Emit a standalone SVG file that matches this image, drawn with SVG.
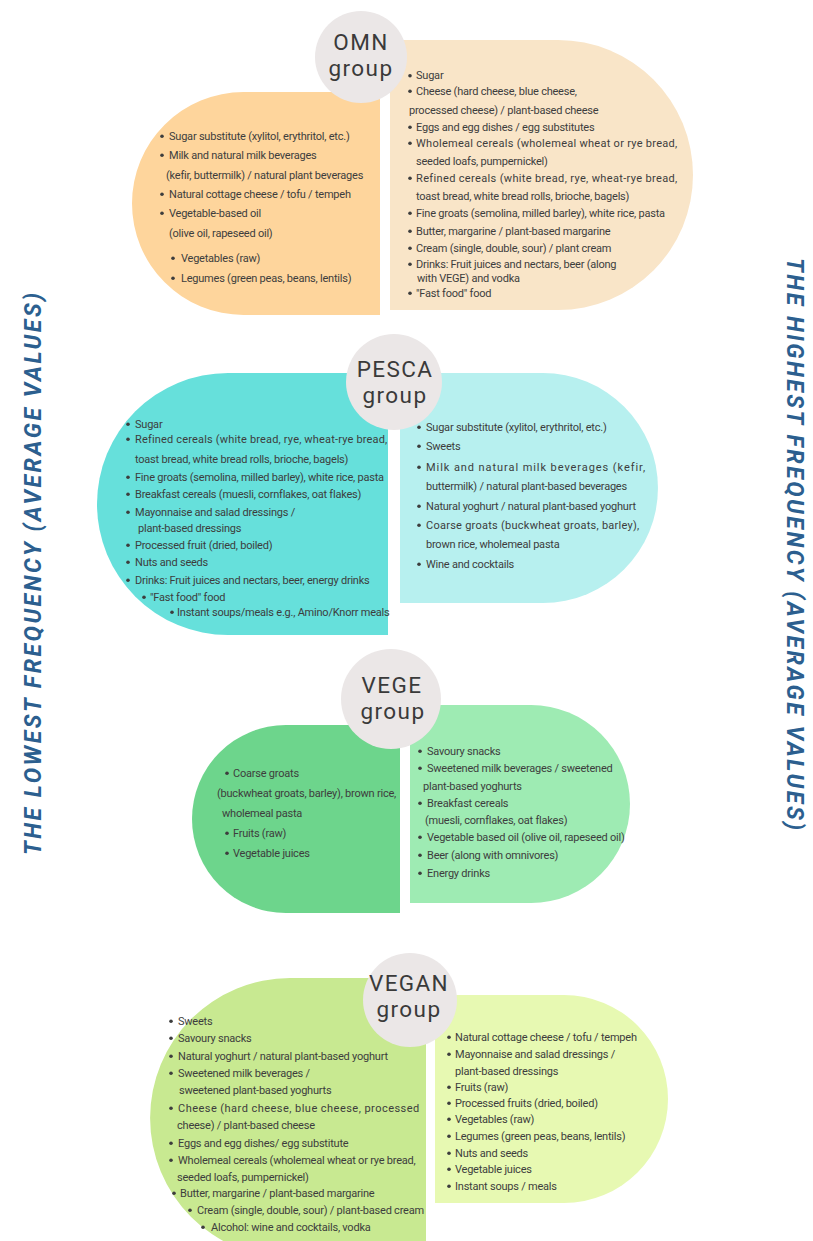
<svg xmlns="http://www.w3.org/2000/svg" width="813" height="1241" viewBox="0 0 813 1241">
  <style>
    .t { font-family: Roboto, "Liberation Sans", sans-serif; font-size: 11px; letter-spacing: -0.22px; fill: #3d3d3d; }
    .title { font-family: Roboto, "Liberation Sans", sans-serif; font-size: 22.5px; fill: #3a3a3a; text-anchor: middle; letter-spacing: 1.4px; }
    .badge { fill: #ebe7e7; }
    .side { font-family: Roboto, "Liberation Sans", sans-serif; font-size: 23px; font-weight: 700; font-style: italic; fill: #2c5f8f; text-anchor: middle; }
    .dot { fill: #3d3d3d; }
  </style>
  <defs>
    <circle id="b" r="1.8" class="dot"/>
  </defs>
  <rect width="813" height="1241" fill="#ffffff"/>

  <!-- axis captions -->
  <text class="side" transform="translate(41,574) rotate(-90)" textLength="562" lengthAdjust="spacing">THE LOWEST FREQUENCY (AVERAGE VALUES)</text>
  <text class="side" transform="translate(787,544) rotate(90)" textLength="572" lengthAdjust="spacing">THE HIGHEST FREQUENCY (AVERAGE VALUES)</text>

  <!-- OMN group -->
  <g id="omn">
    <path d="M380,92 V315 H243.5 A111.5,111.5 0 0 1 243.5,92 Z" fill="#fed59c"/>
    <path d="M390,40 H558 A135,135 0 0 1 558,310 H390 Z" fill="#f9e5c8"/>
    <circle class="badge" cx="361" cy="57" r="46"/>
    <text class="title" x="361" y="50">OMN<tspan x="361" y="76">group</tspan></text>
    <g id="omn-low-dots">
      <use href="#b" x="162" y="136.2"/><use href="#b" x="162" y="155.2"/>
      <use href="#b" x="162" y="194.2"/><use href="#b" x="162" y="213.2"/>
      <use href="#b" x="173" y="258.2"/><use href="#b" x="173" y="278.2"/>
    </g>
    <g id="omn-high-dots">
      <use href="#b" x="410" y="75.7"/><use href="#b" x="410" y="91.2"/>
      <use href="#b" x="410" y="127.2"/><use href="#b" x="410" y="143.2"/>
      <use href="#b" x="410" y="178.2"/><use href="#b" x="410" y="213.2"/>
      <use href="#b" x="410" y="231.2"/><use href="#b" x="410" y="248.2"/>
      <use href="#b" x="410" y="264.2"/><use href="#b" x="410" y="293.2"/>
    </g>
    <text class="t" x="169" y="139.5">Sugar substitute (xylitol, erythritol, etc.)</text>
    <text class="t" x="169" y="158.5">Milk and natural milk beverages</text>
    <text class="t" x="166" y="178.5">(kefir, buttermilk) / natural plant beverages</text>
    <text class="t" x="169" y="197.5">Natural cottage cheese / tofu / tempeh</text>
    <text class="t" x="169" y="216.5">Vegetable-based oil</text>
    <text class="t" x="169" y="236.5">(olive oil, rapeseed oil)</text>
    <text class="t" x="181" y="261.5">Vegetables (raw)</text>
    <text class="t" x="181" y="281.5">Legumes (green peas, beans, lentils)</text>

    <text class="t" x="416" y="79">Sugar</text>
    <text class="t" x="416" y="94.5">Cheese (hard cheese, blue cheese,</text>
    <text class="t" x="409" y="113.5">processed cheese) / plant-based cheese</text>
    <text class="t" x="416" y="130.5">Eggs and egg dishes / egg substitutes</text>
    <text class="t" x="416" y="146.5" textLength="261" lengthAdjust="spacing">Wholemeal cereals (wholemeal wheat or rye bread,</text>
    <text class="t" x="416" y="164.5">seeded loafs, pumpernickel)</text>
    <text class="t" x="416" y="181.5" textLength="261" lengthAdjust="spacing">Refined cereals (white bread, rye, wheat-rye bread,</text>
    <text class="t" x="416" y="199.5">toast bread, white bread rolls, brioche, bagels)</text>
    <text class="t" x="416" y="216.5">Fine groats (semolina, milled barley), white rice, pasta</text>
    <text class="t" x="416" y="234.5">Butter, margarine / plant-based margarine</text>
    <text class="t" x="416" y="251.5">Cream (single, double, sour) / plant cream</text>
    <text class="t" x="416" y="267.5">Drinks: Fruit juices and nectars, beer (along</text>
    <text class="t" x="417" y="281.5">with VEGE) and vodka</text>
    <text class="t" x="416" y="296.5">"Fast food" food</text>
  </g>

  <!-- PESCA group -->
  <g id="pesca">
    <path d="M388,373 V635 H228 A131,131 0 0 1 228,373 Z" fill="#66e0db"/>
    <path d="M400,373 H543 A115,115 0 0 1 543,603 H400 Z" fill="#b7f0ef"/>
    <circle class="badge" cx="394" cy="382" r="48"/>
    <text class="title" x="395" y="377">PESCA<tspan x="395" y="403">group</tspan></text>
    <g id="pesca-low-dots">
      <use href="#b" x="128" y="424.2"/><use href="#b" x="128" y="439.2"/>
      <use href="#b" x="128" y="477.2"/><use href="#b" x="128" y="494.2"/>
      <use href="#b" x="128" y="512.2"/><use href="#b" x="128" y="545.2"/>
      <use href="#b" x="128" y="562.2"/><use href="#b" x="128" y="580.2"/>
      <use href="#b" x="144" y="597.2"/><use href="#b" x="172" y="612.2"/>
    </g>
    <g id="pesca-high-dots">
      <use href="#b" x="419" y="427.2"/><use href="#b" x="419" y="446.2"/>
      <use href="#b" x="419" y="467.2"/><use href="#b" x="419" y="506.2"/>
      <use href="#b" x="419" y="525.2"/><use href="#b" x="419" y="564.2"/>
    </g>
    <text class="t" x="135" y="427.5">Sugar</text>
    <text class="t" x="135" y="442.5" textLength="252" lengthAdjust="spacing">Refined cereals (white bread, rye, wheat-rye bread,</text>
    <text class="t" x="135" y="462.5">toast bread, white bread rolls, brioche, bagels)</text>
    <text class="t" x="135" y="480.5">Fine groats (semolina, milled barley), white rice, pasta</text>
    <text class="t" x="135" y="497.5">Breakfast cereals (muesli, cornflakes, oat flakes)</text>
    <text class="t" x="135" y="515.5">Mayonnaise and salad dressings /</text>
    <text class="t" x="138" y="531.5">plant-based dressings</text>
    <text class="t" x="135" y="548.5">Processed fruit (dried, boiled)</text>
    <text class="t" x="135" y="565.5">Nuts and seeds</text>
    <text class="t" x="135" y="583.5">Drinks: Fruit juices and nectars, beer, energy drinks</text>
    <text class="t" x="150" y="600.5">"Fast food" food</text>
    <text class="t" x="177" y="615.5">Instant soups/meals e.g., Amino/Knorr meals</text>

    <text class="t" x="426" y="430.5">Sugar substitute (xylitol, erythritol, etc.)</text>
    <text class="t" x="426" y="449.5">Sweets</text>
    <text class="t" x="426" y="470.5" textLength="219" lengthAdjust="spacing">Milk and natural milk beverages (kefir,</text>
    <text class="t" x="426" y="489.5">buttermilk) / natural plant-based beverages</text>
    <text class="t" x="426" y="509.5">Natural yoghurt / natural plant-based yoghurt</text>
    <text class="t" x="426" y="528.5" textLength="213" lengthAdjust="spacing">Coarse groats (buckwheat groats, barley),</text>
    <text class="t" x="426" y="547.5">brown rice, wholemeal pasta</text>
    <text class="t" x="426" y="567.5">Wine and cocktails</text>
  </g>

  <!-- VEGE group -->
  <g id="vege">
    <path d="M400,725 V913 H286 A94,94 0 0 1 286,725 Z" fill="#6dd58c"/>
    <path d="M410,705 H531 A99,99 0 0 1 531,903 H410 Z" fill="#9eebb3"/>
    <circle class="badge" cx="391" cy="699" r="50"/>
    <text class="title" x="392" y="693">VEGE<tspan x="393" y="719">group</tspan></text>
    <g id="vege-low-dots">
      <use href="#b" x="227" y="773.2"/><use href="#b" x="227" y="833.2"/>
      <use href="#b" x="227" y="853.2"/>
    </g>
    <g id="vege-high-dots">
      <use href="#b" x="420" y="751.2"/><use href="#b" x="420" y="768.2"/>
      <use href="#b" x="420" y="803.2"/><use href="#b" x="420" y="837.2"/>
      <use href="#b" x="420" y="855.2"/><use href="#b" x="420" y="873.2"/>
    </g>
    <text class="t" x="233" y="776.5">Coarse groats</text>
    <text class="t" x="217" y="796.5">(buckwheat groats, barley), brown rice,</text>
    <text class="t" x="222" y="816.5">wholemeal pasta</text>
    <text class="t" x="233" y="836.5">Fruits (raw)</text>
    <text class="t" x="233" y="856.5">Vegetable juices</text>

    <text class="t" x="427" y="754.5">Savoury snacks</text>
    <text class="t" x="427" y="771.5">Sweetened milk beverages / sweetened</text>
    <text class="t" x="423" y="789.5">plant-based yoghurts</text>
    <text class="t" x="427" y="806.5">Breakfast cereals</text>
    <text class="t" x="425" y="823.5">(muesli, cornflakes, oat flakes)</text>
    <text class="t" x="427" y="840.5">Vegetable based oil (olive oil, rapeseed oil)</text>
    <text class="t" x="427" y="858.5">Beer (along with omnivores)</text>
    <text class="t" x="427" y="876.5">Energy drinks</text>
  </g>

  <!-- VEGAN group -->
  <g id="vegan">
    <path d="M426,978 V1258 H290 A140,140 0 0 1 290,978 Z" fill="#c8e991"/>
    <path d="M435,995 H564 A104,104 0 0 1 564,1203 H435 Z" fill="#e7f9b2"/>
    <circle class="badge" cx="410" cy="1000" r="47"/>
    <text class="title" x="409" y="991">VEGAN<tspan x="409" y="1017">group</tspan></text>
    <g id="vegan-low-dots">
      <use href="#b" x="171" y="1021.2"/><use href="#b" x="171" y="1038.2"/>
      <use href="#b" x="171" y="1056.2"/><use href="#b" x="171" y="1073.2"/>
      <use href="#b" x="171" y="1108.2"/><use href="#b" x="171" y="1143.2"/>
      <use href="#b" x="171" y="1160.2"/><use href="#b" x="174" y="1193.2"/>
      <use href="#b" x="190" y="1210.2"/><use href="#b" x="203" y="1227.2"/>
    </g>
    <g id="vegan-high-dots">
      <use href="#b" x="449" y="1037.2"/><use href="#b" x="449" y="1054.2"/>
      <use href="#b" x="449" y="1087.2"/><use href="#b" x="449" y="1103.2"/>
      <use href="#b" x="449" y="1119.2"/><use href="#b" x="449" y="1136.2"/>
      <use href="#b" x="449" y="1153.2"/><use href="#b" x="449" y="1169.2"/>
      <use href="#b" x="449" y="1186.2"/>
    </g>
    <text class="t" x="178" y="1024.5">Sweets</text>
    <text class="t" x="178" y="1041.5">Savoury snacks</text>
    <text class="t" x="178" y="1059.5">Natural yoghurt / natural plant-based yoghurt</text>
    <text class="t" x="178" y="1076.5">Sweetened milk beverages /</text>
    <text class="t" x="179" y="1093.5">sweetened plant-based yoghurts</text>
    <text class="t" x="178" y="1111.5" textLength="241" lengthAdjust="spacing">Cheese (hard cheese, blue cheese, processed</text>
    <text class="t" x="177" y="1128.5">cheese) / plant-based cheese</text>
    <text class="t" x="178" y="1146.5">Eggs and egg dishes/ egg substitute</text>
    <text class="t" x="178" y="1163.5">Wholemeal cereals (wholemeal wheat or rye bread,</text>
    <text class="t" x="177" y="1180.5">seeded loafs, pumpernickel)</text>
    <text class="t" x="180" y="1196.5">Butter, margarine / plant-based margarine</text>
    <text class="t" x="197" y="1213.5">Cream (single, double, sour) / plant-based cream</text>
    <text class="t" x="211" y="1230.5">Alcohol: wine and cocktails, vodka</text>

    <text class="t" x="455" y="1040.5">Natural cottage cheese / tofu / tempeh</text>
    <text class="t" x="455" y="1057.5">Mayonnaise and salad dressings /</text>
    <text class="t" x="455" y="1074.5">plant-based dressings</text>
    <text class="t" x="455" y="1090.5">Fruits (raw)</text>
    <text class="t" x="455" y="1106.5">Processed fruits (dried, boiled)</text>
    <text class="t" x="455" y="1122.5">Vegetables (raw)</text>
    <text class="t" x="455" y="1139.5">Legumes (green peas, beans, lentils)</text>
    <text class="t" x="455" y="1156.5">Nuts and seeds</text>
    <text class="t" x="455" y="1172.5">Vegetable juices</text>
    <text class="t" x="455" y="1189.5">Instant soups / meals</text>
  </g>
</svg>
